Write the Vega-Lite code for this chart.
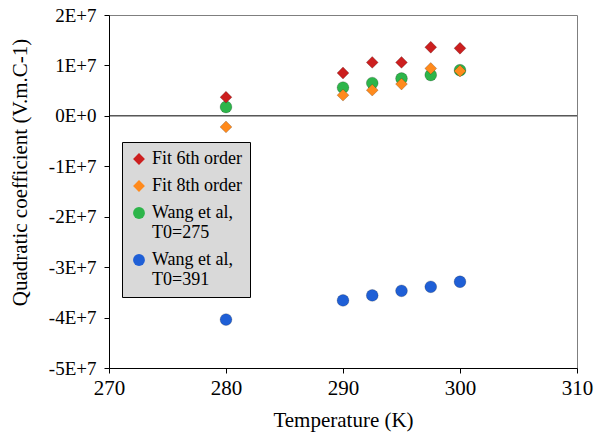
{
  "$schema": "https://vega.github.io/schema/vega-lite/v6.json",
  "width": 468,
  "height": 353,
  "autosize": {"type": "none"},
  "padding": {"left": 109, "top": 15, "right": 17, "bottom": 65},
  "background": "white",
  "config": {
    "view": {"stroke": "#7f7f7f", "strokeWidth": 1},
    "font": "'Liberation Serif', 'DejaVu Serif', serif"
  },
  "datasets": {
    "pts": [
      {"T": 280, "v": 3700000, "series": "Fit 6th order"},
      {"T": 290, "v": 8500000, "series": "Fit 6th order"},
      {"T": 292.5, "v": 10600000, "series": "Fit 6th order"},
      {"T": 295, "v": 10600000, "series": "Fit 6th order"},
      {"T": 297.5, "v": 13600000, "series": "Fit 6th order"},
      {"T": 300, "v": 13400000, "series": "Fit 6th order"},
      {"T": 280, "v": -2200000, "series": "Fit 8th order"},
      {"T": 290, "v": 4100000, "series": "Fit 8th order"},
      {"T": 292.5, "v": 5100000, "series": "Fit 8th order"},
      {"T": 295, "v": 6300000, "series": "Fit 8th order"},
      {"T": 297.5, "v": 9400000, "series": "Fit 8th order"},
      {"T": 300, "v": 8900000, "series": "Fit 8th order"},
      {"T": 280, "v": 1750000, "series": "Wang et al, T0=275"},
      {"T": 290, "v": 5600000, "series": "Wang et al, T0=275"},
      {"T": 292.5, "v": 6500000, "series": "Wang et al, T0=275"},
      {"T": 295, "v": 7400000, "series": "Wang et al, T0=275"},
      {"T": 297.5, "v": 8100000, "series": "Wang et al, T0=275"},
      {"T": 300, "v": 9050000, "series": "Wang et al, T0=275"},
      {"T": 280, "v": -40400000, "series": "Wang et al, T0=391"},
      {"T": 290, "v": -36600000, "series": "Wang et al, T0=391"},
      {"T": 292.5, "v": -35600000, "series": "Wang et al, T0=391"},
      {"T": 295, "v": -34700000, "series": "Wang et al, T0=391"},
      {"T": 297.5, "v": -33900000, "series": "Wang et al, T0=391"},
      {"T": 300, "v": -32900000, "series": "Wang et al, T0=391"}
    ],
    "zero": [{"y": 0}]
  },
  "layer": [
    {
      "data": {"name": "zero"},
      "mark": {"type": "rule", "color": "#000000", "strokeWidth": 1},
      "encoding": {
        "y": {"field": "y", "type": "quantitative", "scale": {"domain": [-50000000, 20000000]}}
      }
    },
    {
      "data": {"name": "pts"},
      "mark": {"type": "point", "filled": true, "opacity": 1, "stroke": "#00000055", "strokeWidth": 0.6},
      "encoding": {
        "x": {
          "field": "T", "type": "quantitative",
          "scale": {"domain": [270, 310], "nice": false, "zero": false},
          "axis": {
            "values": [270, 280, 290, 300, 310],
            "title": "Temperature (K)",
            "titleFont": "'Liberation Serif', 'DejaVu Serif', serif", "titleFontSize": 21, "titleFontWeight": "normal", "titleColor": "#000",
            "titlePadding": 11,
            "labelFont": "'Liberation Serif', 'DejaVu Serif', serif", "labelFontSize": 21, "labelColor": "#000", "labelPadding": 4,
            "domainColor": "#000", "tickColor": "#000", "tickSize": 5, "grid": false, "labelFlush": false
          }
        },
        "y": {
          "field": "v", "type": "quantitative",
          "scale": {"domain": [-50000000, 20000000], "nice": false, "zero": false},
          "axis": {
            "values": [-50000000, -40000000, -30000000, -20000000, -10000000, 0, 10000000, 20000000],
            "labelExpr": "datum.value == 0 ? '0E+0' : (datum.value < 0 ? '-' : '') + abs(round(datum.value/10000000)) + 'E+7'",
            "title": "Quadratic coefficient (V.m.C-1)",
            "titleFont": "'Liberation Serif', 'DejaVu Serif', serif", "titleFontSize": 21, "titleFontWeight": "normal", "titleColor": "#000",
            "titleX": -79, "titleY": 157,
            "labelFont": "'Liberation Serif', 'DejaVu Serif', serif", "labelFontSize": 19, "labelColor": "#000", "labelPadding": 8,
            "domainColor": "#000", "tickColor": "#000", "tickSize": 5, "grid": false
          }
        },
        "color": {
          "field": "series", "type": "nominal",
          "scale": {
            "domain": ["Fit 6th order", "Fit 8th order", "Wang et al, T0=275", "Wang et al, T0=391"],
            "range": ["#cc1f1f", "#ff8a1c", "#2db54a", "#1f5fd6"]
          },
          "legend": {
            "orient": "none", "legendX": 13, "legendY": 127,
            "title": null,
            "fillColor": "#d9d9d9", "strokeColor": "#000000",
            "padding": 8,
            "labelFont": "'Liberation Serif', 'DejaVu Serif', serif", "labelFontSize": 18, "labelColor": "#000",
            "labelLimit": 200,
            "labelExpr": "indexof(datum.label, 'T0') > 0 ? [slice(datum.label, 0, 11), slice(datum.label, 12)] : datum.label",
            "symbolSize": 110, "symbolStrokeWidth": 0, "symbolOpacity": 1,
            "rowPadding": 9
          }
        },
        "shape": {
          "field": "series", "type": "nominal",
          "scale": {
            "domain": ["Fit 6th order", "Fit 8th order", "Wang et al, T0=275", "Wang et al, T0=391"],
            "range": ["diamond", "diamond", "circle", "circle"]
          },
          "legend": null
        },
        "size": {
          "field": "series", "type": "nominal",
          "scale": {
            "domain": ["Fit 6th order", "Fit 8th order", "Wang et al, T0=275", "Wang et al, T0=391"],
            "range": [140, 140, 115, 115]
          },
          "legend": null
        },
        "order": {"field": "series", "sort": "descending"}
      }
    }
  ]
}
